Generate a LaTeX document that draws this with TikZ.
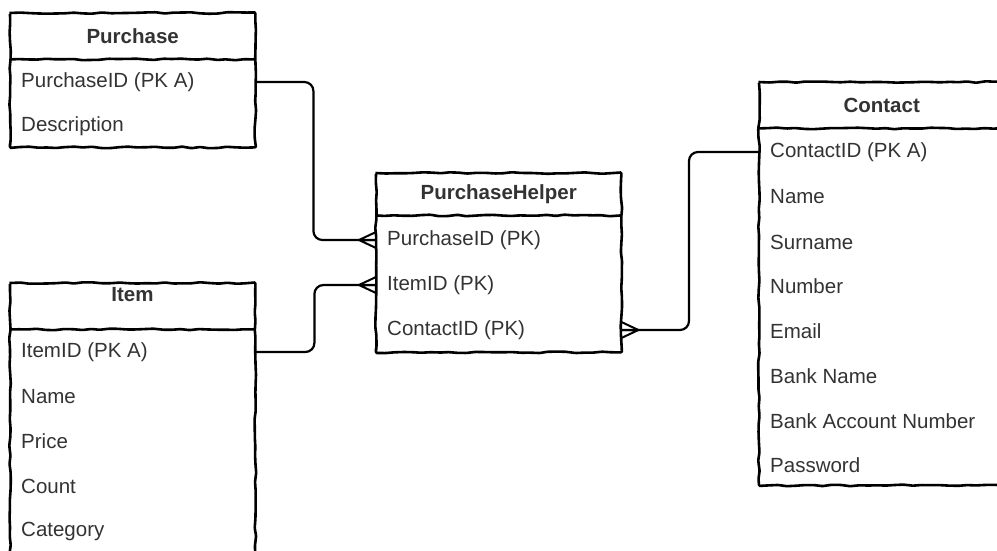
\documentclass[tikz,border=0pt]{standalone}
\usepackage{fontspec}
\setmainfont{Liberation Sans}
\usetikzlibrary{decorations.pathmorphing}
\definecolor{txt}{HTML}{333333}
\tikzset{
  sketch/.style={line width=2.6pt, decorate, decoration={random steps, segment length=9pt, amplitude=0.8pt}, rounded corners=1pt},
  conn/.style={line width=2.2pt, rounded corners=9pt},
  foot/.style={line width=2pt},
  tbl/.style={rectangle, inner sep=0pt, minimum width=245pt, anchor=north west},
  hdr/.style={rectangle, inner sep=0pt, minimum width=245pt, minimum height=46pt, anchor=north west},
  title/.style={font=\fontsize{20.5}{24}\selectfont\bfseries, text=txt, inner sep=0pt},
  row/.style={font=\fontsize{20.5}{24}\selectfont, text=txt, anchor=west, inner sep=0pt},
}
\begin{document}
\begin{tikzpicture}[x=1pt,y=-1pt]
\pgfmathsetseed{7}
\clip (0,0) rectangle (997,550);
\fill[white] (0,0) rectangle (997,550);

% ---------- Purchase ----------
\node[tbl, minimum height=134pt] (purchase) at (10,13) {};
\node[hdr] (purchaseh) at (10,13) {};
\node[title] (purchaset) at (purchaseh.center) {Purchase};
\draw[sketch] (purchase.north west) rectangle (purchase.south east);
\draw[sketch] (purchaseh.south west) -- (purchaseh.south east);
\node[row] (p1) at (21,82) {PurchaseID (PK A)};
\node[row] (p2) at (21,126) {Description};

% ---------- Item ----------
\node[tbl, minimum height=290pt] (item) at (10,283) {};
\node[hdr] (itemh) at (10,283) {};
\node[title] (itemt) at (132.5,295) {Item};
\draw[sketch] (item.north west) rectangle (item.south east);
\draw[sketch] (itemh.south west) -- (itemh.south east);
\node[row] (i1) at (21,352) {ItemID (PK A)};
\node[row] (i2) at (21,397) {Name};
\node[row] (i3) at (21,441) {Price};
\node[row] (i4) at (21,486) {Count};
\node[row] (i5) at (21,531) {Category};

% ---------- PurchaseHelper ----------
\node[tbl, minimum height=179pt] (ph) at (376,173) {};
\node[hdr, minimum height=42pt] (phh) at (376,173) {};
\node[title] (pht) at (phh.center) {PurchaseHelper};
\draw[sketch] (ph.north west) rectangle (ph.south east);
\draw[sketch] (phh.south west) -- (phh.south east);
\node[row] (h1) at (387,240) {PurchaseID (PK)};
\node[row] (h2) at (387,285) {ItemID (PK)};
\node[row] (h3) at (387,330) {ContactID (PK)};

% ---------- Contact ----------
\node[tbl, minimum height=403pt] (contact) at (759,82) {};
\node[hdr] (contacth) at (759,82) {};
\node[title] (contactt) at (contacth.center) {Contact};
\draw[sketch] (contact.north west) rectangle (contact.south east);
\draw[sketch] (contacth.south west) -- (contacth.south east);
\node[row] (c1) at (770,152) {ContactID (PK A)};
\node[row] (c2) at (770,197) {Name};
\node[row] (c3) at (770,242) {Surname};
\node[row] (c4) at (770,286) {Number};
\node[row] (c5) at (770,331) {Email};
\node[row] (c6) at (770,376) {Bank Name};
\node[row] (c7) at (770,421) {Bank Account Number};
\node[row] (c8) at (770,465) {Password};

% ---------- connectors ----------
\coordinate (ePA) at (purchase.east |- p1);
\coordinate (eIA) at (item.east |- i1);
\coordinate (eCA) at (contact.west |- c1);
\coordinate (eH1) at (ph.west |- h1);
\coordinate (eH2) at (ph.west |- h2);
\coordinate (eH3) at (ph.east |- h3);

\draw[conn] (ePA) -- ++(58,0) |- (eH1);
\draw[conn] (eIA) -- ++(59,0) |- (eH2);
\draw[conn] (eCA) -- ++(-70,0) |- (eH3);

% crow's feet
\draw[foot] (eH1) ++(-17,0) coordinate (t1) -- ++(17,-8) (t1) -- (eH1) (t1) -- ++(17,8);
\draw[foot] (eH2) ++(-17,0) coordinate (t2) -- ++(17,-8) (t2) -- (eH2) (t2) -- ++(17,8);
\draw[foot] (eH3) ++(17,0) coordinate (t3) -- ++(-17,-8) (t3) -- (eH3) (t3) -- ++(-17,8);
\end{tikzpicture}
\end{document}
